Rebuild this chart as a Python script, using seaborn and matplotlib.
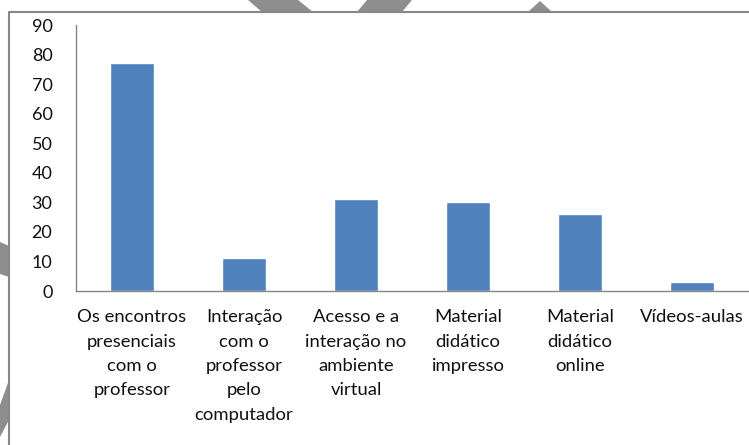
import matplotlib
matplotlib.use("Agg")
import matplotlib.pyplot as plt
from matplotlib.patches import Polygon
from matplotlib.lines import Line2D
import seaborn as sns
import pandas as pd

# data
categories = [
    "Os encontros\npresenciais\ncom o\nprofessor",
    "Interação\ncom o\nprofessor\npelo\ncomputador",
    "Acesso e a\ninteração no\nambiente\nvirtual",
    "Material\ndidático\nimpresso",
    "Material\ndidático\nonline",
    "Vídeos-aulas",
]
values = [77, 11, 31, 30, 26, 3]
yticks = [0, 10, 20, 30, 40, 50, 60, 70, 80, 90]

W, H = 749, 445
BAR_COLOR = "#4F81BD"
AXIS_GRAY = "#868686"
MARK_GRAY = "#8e8e8e"

sns.set_style("white")
plt.rcParams["font.family"] = ["Lato", "DejaVu Sans"]

df = pd.DataFrame({"cat": categories, "val": values})

fig = plt.figure(figsize=(W / 100, H / 100), dpi=100)
ax = fig.add_axes([76 / W, 1 - 291 / H, (748 - 76) / W, (291 - 25) / H])

sns.barplot(data=df, x="cat", y="val", color=BAR_COLOR, width=0.4,
            saturation=1, ax=ax)

ax.set_xlim(-0.5, len(categories) - 0.5)
ax.set_ylim(0, 90)
ax.set_yticks(yticks)
ax.set_xlabel("")
ax.set_ylabel("")

for s in ["top", "right"]:
    ax.spines[s].set_visible(False)
for s in ["left", "bottom"]:
    ax.spines[s].set_color(AXIS_GRAY)
    ax.spines[s].set_linewidth(1.0)

# category separators as minor ticks, labels on major ticks without marks
ax.set_xticks([i - 0.5 for i in range(len(categories) + 1)], minor=True)
ax.tick_params(axis="x", which="minor", length=6, color=AXIS_GRAY, width=1, direction="out")
ax.tick_params(axis="x", which="major", length=0, pad=13, labelsize=13.3,
               labelcolor="#111111")
ax.tick_params(axis="y", length=6, color=AXIS_GRAY, width=1, direction="out",
               labelsize=13, pad=11, labelcolor="#111111")
for lab in ax.get_xticklabels():
    lab.set_linespacing(1.65)
    lab.set_multialignment("center")

# outer chart frame
def px(x, y):
    return (x / W, 1 - y / H)

fig.add_artist(Line2D([9 / W, 9 / W, 1], [0, 1 - 12 / H, 1 - 12 / H],
                      transform=fig.transFigure, color=AXIS_GRAY, lw=1.5))

# grey scan marks outside the frame
shapes = [
    [(248, 0), (298, 0), (313, 12), (262, 12)],
    [(367, 0), (412, 0), (402, 12), (357, 12)],
    [(540, 1), (552, 12), (528, 12)],
    [(0, 242), (9, 246), (9, 277), (0, 274)],
    [(0, 405), (9, 380), (9, 420), (0, 437)],
]
for pts in shapes:
    fig.add_artist(Polygon([px(x, y) for x, y in pts], closed=True,
                           transform=fig.transFigure, color=MARK_GRAY, lw=0))

fig.savefig("out.png", dpi=100)
